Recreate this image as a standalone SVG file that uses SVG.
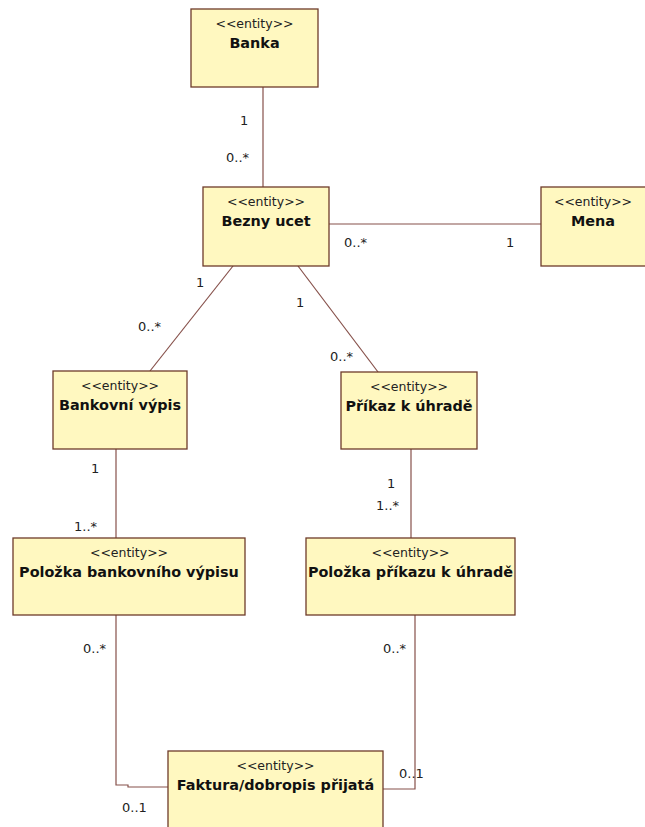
<svg xmlns="http://www.w3.org/2000/svg" width="645" height="827" viewBox="0 0 645 827">
  <style>
    .box { fill: #fff8c0; stroke: #6e3b2a; stroke-width: 1.3; }
    .st { font-family: "DejaVu Sans", Verdana, sans-serif; font-size: 12.5px; fill: #222; text-anchor: middle; }
    .nm { font-family: "DejaVu Sans", Verdana, sans-serif; font-size: 14.4px; font-weight: bold; fill: #111; text-anchor: middle; }
    .ln { fill: none; stroke: #86504a; stroke-width: 1.2; }
    .m { font-family: "DejaVu Sans", Verdana, sans-serif; font-size: 13px; fill: #222; }
  </style>
  <rect width="645" height="827" fill="#ffffff"/>

  <!-- associations -->
  <g id="connectors">
    <line class="ln" x1="263" y1="87" x2="263" y2="187"/>
    <line class="ln" x1="329" y1="224" x2="541" y2="224"/>
    <line class="ln" x1="233" y1="266" x2="150" y2="371"/>
    <line class="ln" x1="298" y1="266" x2="378" y2="372"/>
    <line class="ln" x1="116" y1="449" x2="116" y2="538"/>
    <line class="ln" x1="411" y1="449" x2="411" y2="538"/>
    <polyline class="ln" points="116,615 116,785 128,785 128,787 168,787"/>
    <polyline class="ln" points="415,615 415,789 383,789"/>
  </g>

  <!-- multiplicities -->
  <g id="multiplicities">
    <text class="m" x="240" y="125">1</text>
    <text class="m" x="226" y="162">0..*</text>
    <text class="m" x="344" y="247">0..*</text>
    <text class="m" x="506" y="247">1</text>
    <text class="m" x="196" y="287">1</text>
    <text class="m" x="138" y="331">0..*</text>
    <text class="m" x="296" y="307">1</text>
    <text class="m" x="330" y="361">0..*</text>
    <text class="m" x="91" y="473">1</text>
    <text class="m" x="74" y="531">1..*</text>
    <text class="m" x="387" y="488">1</text>
    <text class="m" x="376" y="510">1..*</text>
    <text class="m" x="83" y="653">0..*</text>
    <text class="m" x="383" y="653">0..*</text>
    <text class="m" x="122" y="812">0..1</text>
    <text class="m" x="399" y="778">0..1</text>
  </g>

  <g id="banka">
    <rect class="box" x="191" y="9" width="127" height="78"/>
    <text class="st" x="254.5" y="28">&lt;&lt;entity&gt;&gt;</text>
    <text class="nm" x="254.5" y="48">Banka</text>
  </g>

  <g id="bezny-ucet">
    <rect class="box" x="203" y="187" width="126" height="79"/>
    <text class="st" x="266" y="206">&lt;&lt;entity&gt;&gt;</text>
    <text class="nm" x="266" y="226">Bezny ucet</text>
  </g>

  <g id="mena">
    <rect class="box" x="541" y="187" width="110" height="79"/>
    <text class="st" x="593" y="206">&lt;&lt;entity&gt;&gt;</text>
    <text class="nm" x="593" y="226">Mena</text>
  </g>

  <g id="bankovni-vypis">
    <rect class="box" x="53" y="371" width="134" height="78"/>
    <text class="st" x="120" y="390">&lt;&lt;entity&gt;&gt;</text>
    <text class="nm" x="120" y="410">Bankovní výpis</text>
  </g>

  <g id="prikaz-k-uhrade">
    <rect class="box" x="341" y="372" width="136" height="77"/>
    <text class="st" x="409" y="391">&lt;&lt;entity&gt;&gt;</text>
    <text class="nm" x="409" y="411">Příkaz k úhradě</text>
  </g>

  <g id="polozka-bankovniho-vypisu">
    <rect class="box" x="13" y="538" width="232" height="77"/>
    <text class="st" x="129" y="557">&lt;&lt;entity&gt;&gt;</text>
    <text class="nm" x="129" y="577">Položka bankovního výpisu</text>
  </g>

  <g id="polozka-prikazu-k-uhrade">
    <rect class="box" x="306" y="538" width="209" height="77"/>
    <text class="st" x="410.5" y="557">&lt;&lt;entity&gt;&gt;</text>
    <text class="nm" x="410.5" y="577">Položka příkazu k úhradě</text>
  </g>

  <g id="faktura-dobropis-prijata">
    <rect class="box" x="168" y="751" width="215" height="90"/>
    <text class="st" x="275.5" y="770">&lt;&lt;entity&gt;&gt;</text>
    <text class="nm" x="275.5" y="790">Faktura/dobropis přijatá</text>
  </g>
</svg>
